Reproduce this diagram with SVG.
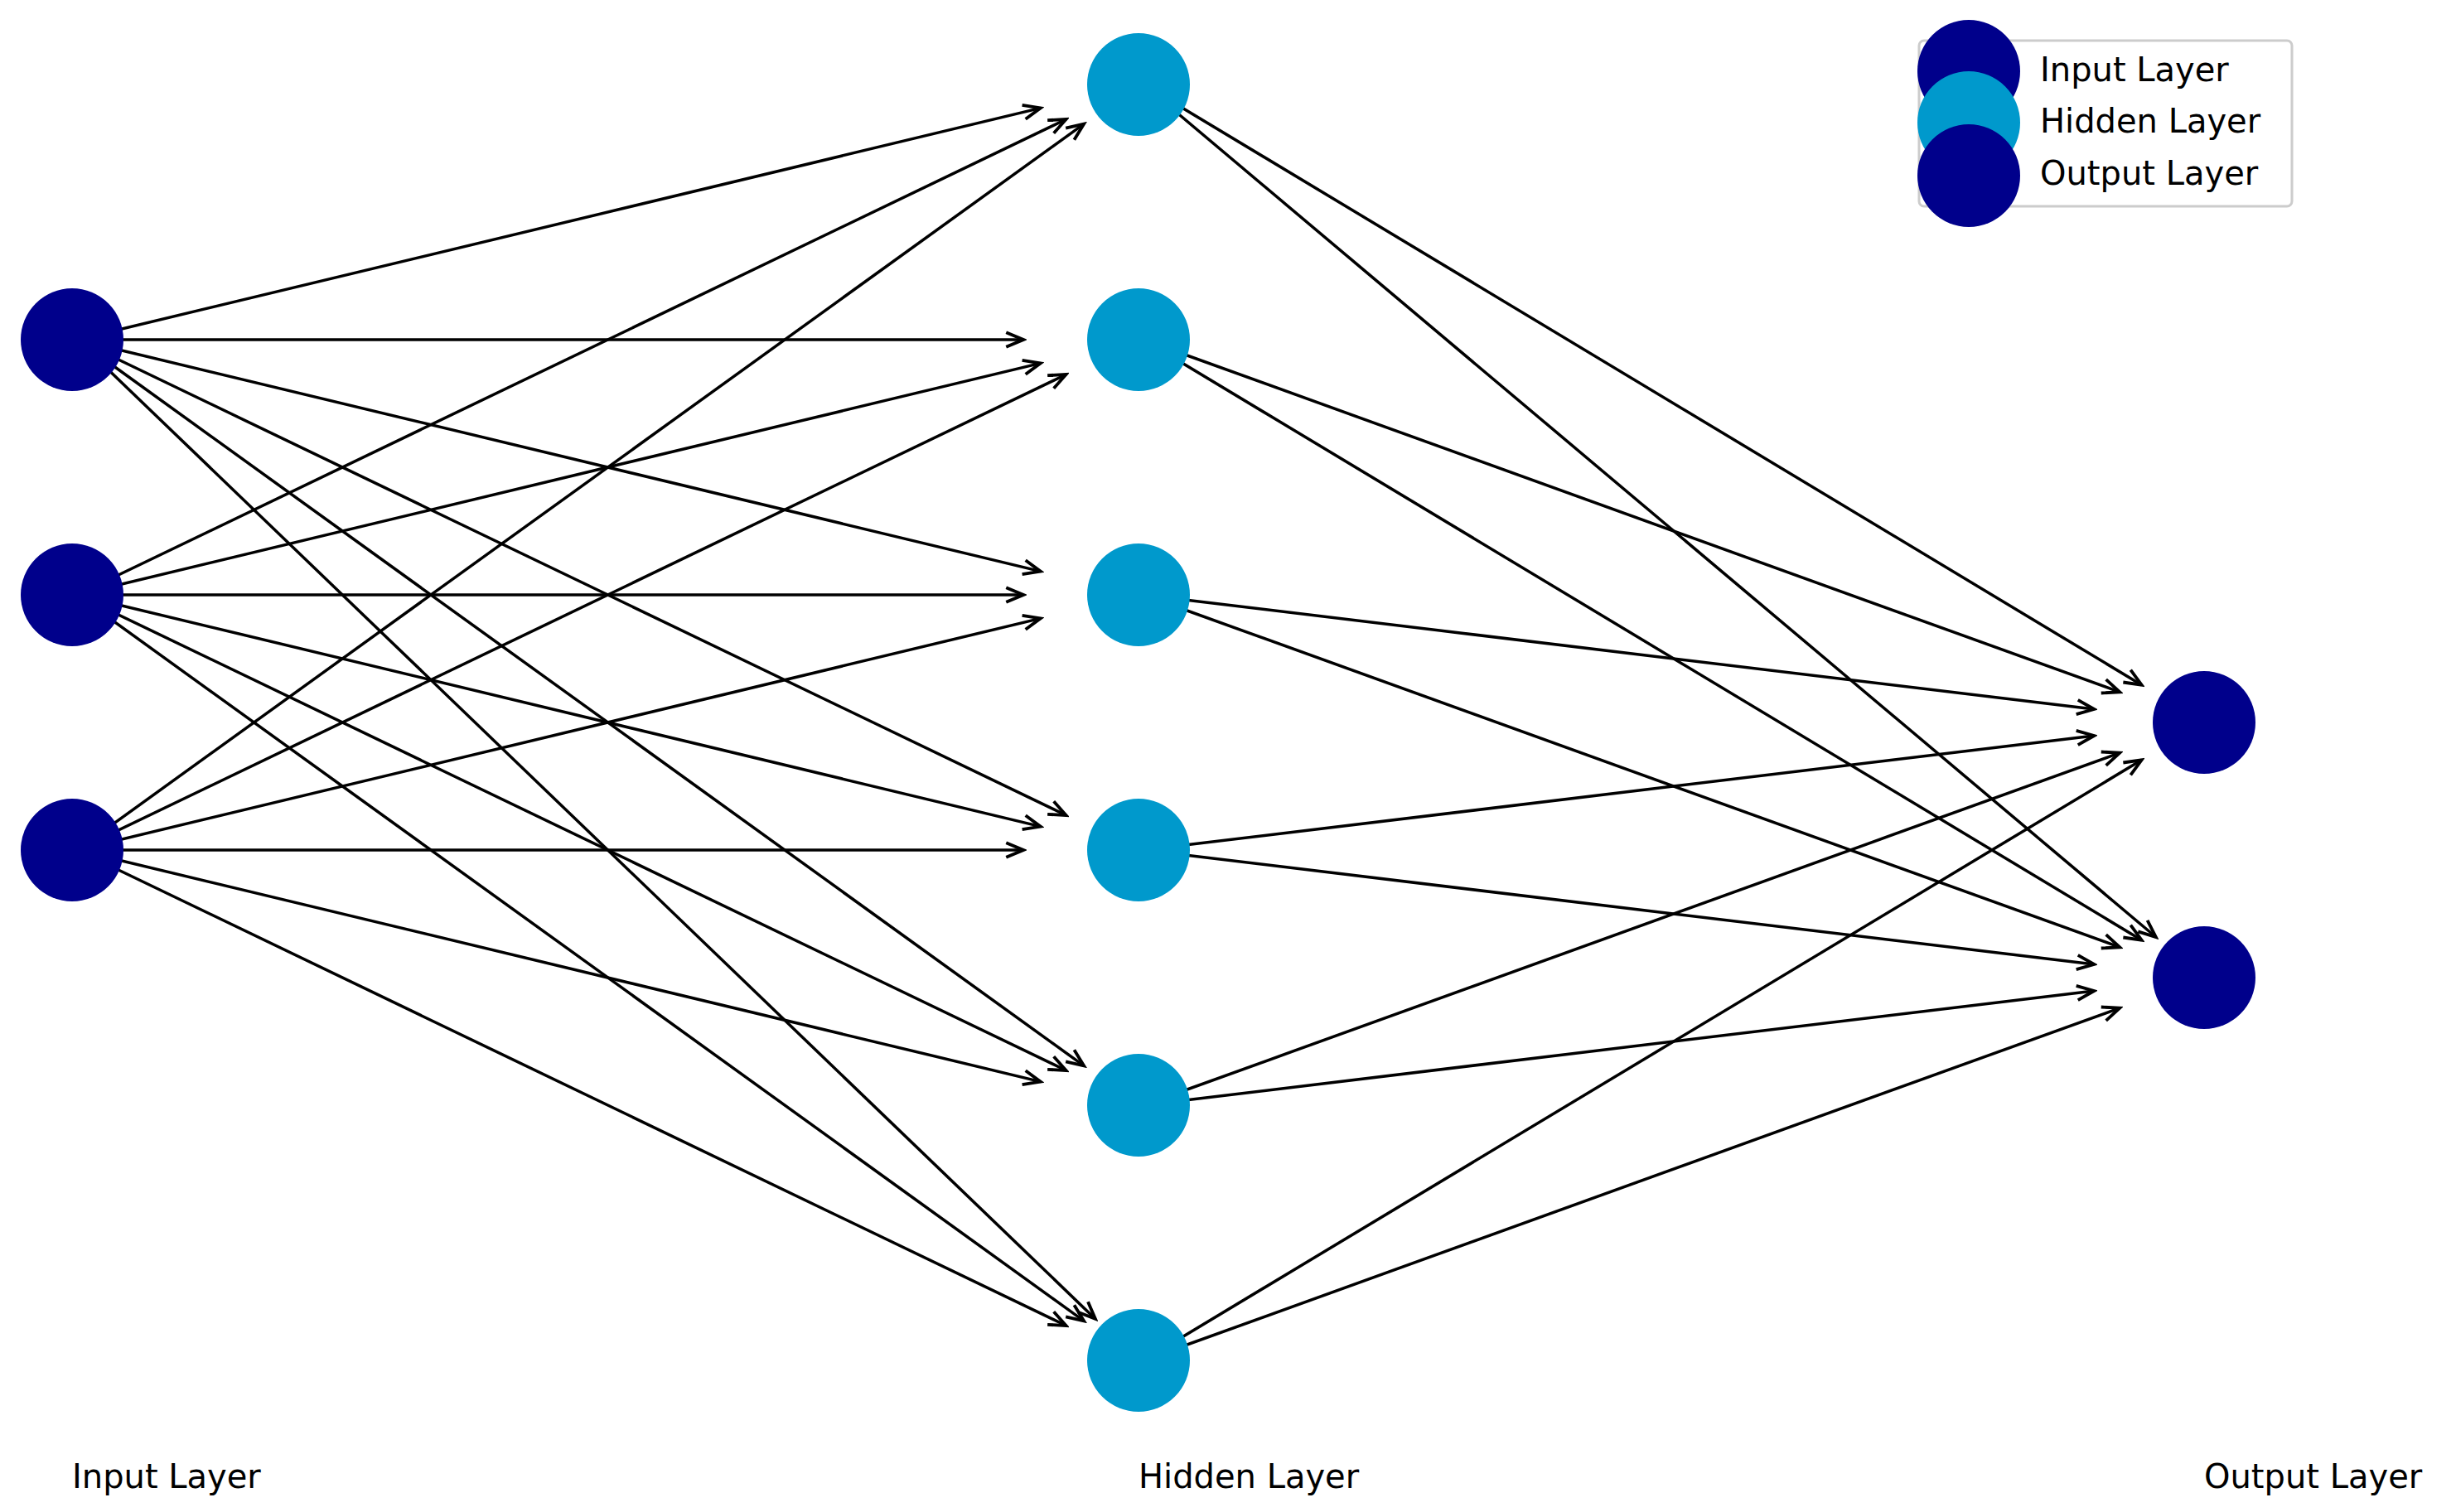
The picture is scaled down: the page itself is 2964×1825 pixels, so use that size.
<svg xmlns="http://www.w3.org/2000/svg" width="2964" height="1825" viewBox="0 0 2964 1825">
<style>
.in{fill:#00008B}.hid{fill:#0099CC}
.e{stroke:#000;stroke-width:3.5;fill:none;marker-end:url(#ah)}
text{font-family:"DejaVu Sans",sans-serif;font-size:40px;fill:#000}
</style>
<defs><marker id="ah" markerUnits="userSpaceOnUse" markerWidth="30" markerHeight="24" viewBox="-22 -11 24 22" refX="0" refY="0" orient="auto"><path d="M-19,-8 L0,0 L-19,8" fill="none" stroke="#000" stroke-width="3.5"/></marker></defs>
<rect width="2964" height="1825" fill="#fff"/>
<g id="connectors">
<line class="e" x1="93" y1="410" x2="1255.8" y2="130.4"/>
<line class="e" x1="93" y1="410" x2="1235" y2="410"/>
<line class="e" x1="93" y1="410" x2="1255.8" y2="689.6"/>
<line class="e" x1="93" y1="410" x2="1286.6" y2="984"/>
<line class="e" x1="93" y1="410" x2="1308.1" y2="1286.4"/>
<line class="e" x1="93" y1="410" x2="1321.9" y2="1591.9"/>
<line class="e" x1="93" y1="718" x2="1286.6" y2="144"/>
<line class="e" x1="93" y1="718" x2="1255.8" y2="438.4"/>
<line class="e" x1="93" y1="718" x2="1235" y2="718"/>
<line class="e" x1="93" y1="718" x2="1255.8" y2="997.6"/>
<line class="e" x1="93" y1="718" x2="1286.6" y2="1292"/>
<line class="e" x1="93" y1="718" x2="1308.1" y2="1594.4"/>
<line class="e" x1="93" y1="1026" x2="1308.1" y2="149.6"/>
<line class="e" x1="93" y1="1026" x2="1286.6" y2="452"/>
<line class="e" x1="93" y1="1026" x2="1255.8" y2="746.4"/>
<line class="e" x1="93" y1="1026" x2="1235" y2="1026"/>
<line class="e" x1="93" y1="1026" x2="1255.8" y2="1305.6"/>
<line class="e" x1="93" y1="1026" x2="1286.6" y2="1600"/>
<line class="e" x1="1380" y1="102" x2="2584.6" y2="826.7"/>
<line class="e" x1="1380" y1="102" x2="2601.8" y2="1131"/>
<line class="e" x1="1380" y1="410" x2="2558.2" y2="835.3"/>
<line class="e" x1="1380" y1="410" x2="2584.6" y2="1134.7"/>
<line class="e" x1="1380" y1="718" x2="2527.3" y2="856"/>
<line class="e" x1="1380" y1="718" x2="2558.2" y2="1143.3"/>
<line class="e" x1="1380" y1="1026" x2="2527.3" y2="888"/>
<line class="e" x1="1380" y1="1026" x2="2527.3" y2="1164"/>
<line class="e" x1="1380" y1="1334" x2="2558.2" y2="908.7"/>
<line class="e" x1="1380" y1="1334" x2="2527.3" y2="1196"/>
<line class="e" x1="1380" y1="1642" x2="2584.6" y2="917.3"/>
<line class="e" x1="1380" y1="1642" x2="2558.2" y2="1216.7"/>
</g>
<g id="input-nodes">
<circle id="i0" class="in" cx="87" cy="410" r="62"/>
<circle id="i1" class="in" cx="87" cy="718" r="62"/>
<circle id="i2" class="in" cx="87" cy="1026" r="62"/>
</g>
<g id="hidden-nodes">
<circle id="h0" class="hid" cx="1374" cy="102" r="62"/>
<circle id="h1" class="hid" cx="1374" cy="410" r="62"/>
<circle id="h2" class="hid" cx="1374" cy="718" r="62"/>
<circle id="h3" class="hid" cx="1374" cy="1026" r="62"/>
<circle id="h4" class="hid" cx="1374" cy="1334" r="62"/>
<circle id="h5" class="hid" cx="1374" cy="1642" r="62"/>
</g>
<g id="output-nodes">
<circle id="o0" class="in" cx="2660" cy="872" r="62"/>
<circle id="o1" class="in" cx="2660" cy="1180" r="62"/>
</g>
<g id="layer-labels">
<text x="87" y="1796">Input Layer</text>
<text x="1374" y="1796">Hidden Layer</text>
<text x="2660" y="1796">Output Layer</text>
</g>
<g id="legend">
<rect x="2316" y="49" width="450" height="200" rx="6" fill="#fff" stroke="#ccc" stroke-width="3"/>
<circle class="in" cx="2376" cy="86" r="62"/>
<circle class="hid" cx="2376" cy="148" r="62"/>
<circle class="in" cx="2376" cy="212" r="62"/>
<text x="2462" y="98">Input Layer</text>
<text x="2462" y="160">Hidden Layer</text>
<text x="2462" y="223">Output Layer</text>
</g>
</svg>
